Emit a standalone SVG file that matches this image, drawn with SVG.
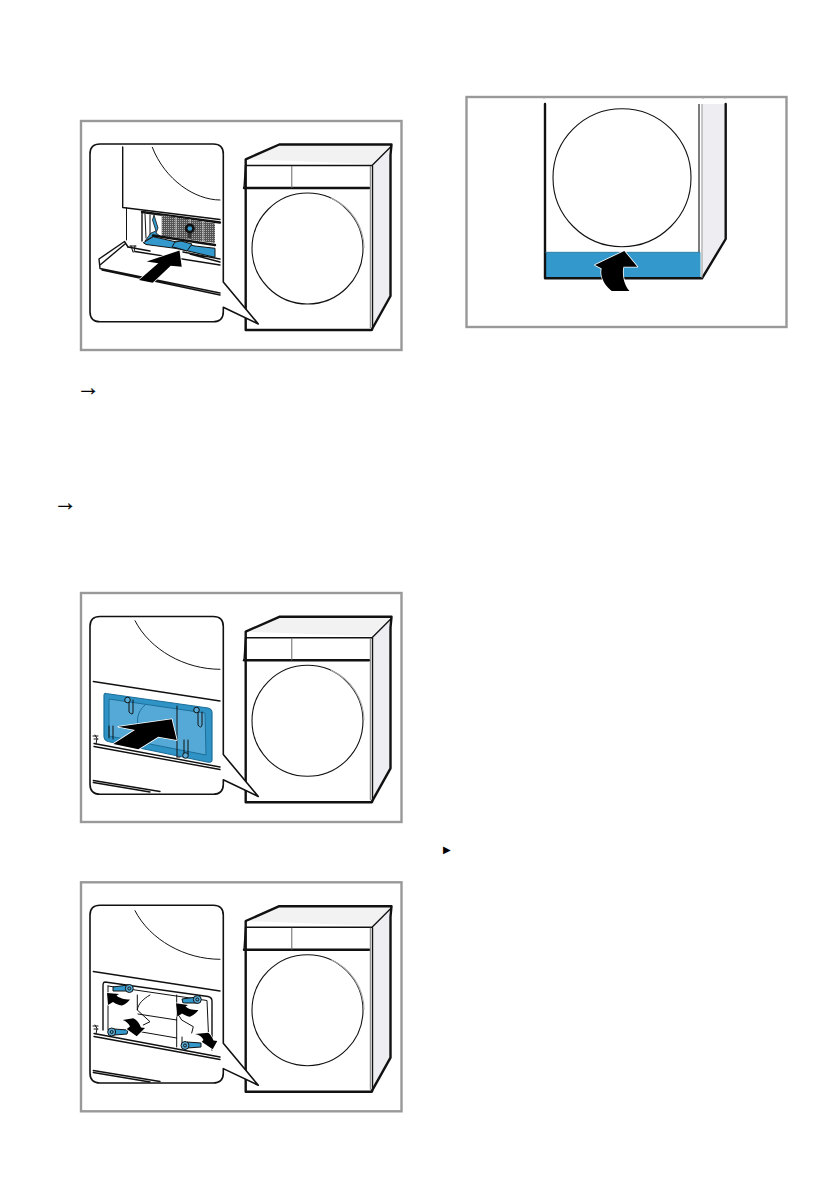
<svg xmlns="http://www.w3.org/2000/svg" width="839" height="1191" viewBox="0 0 839 1191">
<style>
.frame{fill:#fff;stroke:#999;stroke-width:2.4}
.k{fill:none;stroke:#111;stroke-linecap:round;stroke-linejoin:round}
.t{stroke-width:1}.m{stroke-width:1.4}.b{stroke-width:2.4}
.blue{fill:#3399cc;stroke:#111;stroke-width:1}
.lt{fill:#59abd6;stroke:#111;stroke-width:1}
.arr{fill:#000;stroke:#fff;stroke-width:1.6;stroke-linejoin:round;paint-order:stroke}
.txt{font-family:"Liberation Sans",sans-serif;fill:#000;stroke:#000;stroke-width:.35}
</style>
<defs>
<g id="machine">
<path d="M245.700 159.300L279.300 144.300H391.700L372 164L245.700 159.300Z" fill="#f2f2f2"/>
<path d="M372 164L391.700 146L390.500 155L390.500 296L372 330Z" fill="#eeeef2"/>
<path class="k b" d="M245.700 188V159.300L279.300 144.500H391.500L390.500 155V296L371.500 330H245.700V188"/>
<path class="k m" d="M245.700 165.500H372L391.500 146"/>
<path class="k m" d="M245.500 165.500L244 188"/>
<path class="k b" d="M244 188H369"/>
<path d="M291.800 166V188" fill="none" stroke="#666" stroke-width="1"/>
<path d="M370.300 166V328" fill="none" stroke="#777" stroke-width="1"/>
<path class="k m" d="M372.500 166V330"/>
<circle cx="307.500" cy="248.500" r="55.500" fill="#fff" stroke="#111" stroke-width="1.100"/>
<path d="M330 198A55.500 55.500 0 0 1 363 248" fill="none" stroke="#aaa" stroke-width="1.200" transform="translate(1 0)"/>
</g>
<path id="callout" d="M100 144H213.300Q223.300 144 223.300 154V282L258.300 324L223.300 307.300V311.700Q223.300 321.700 213.300 321.700H100Q90 321.700 90 311.700V154Q90 144 100 144Z" fill="#fff" stroke="#111" stroke-width="1.600" stroke-linejoin="round"/>
<pattern id="mesh" width="2" height="2" patternUnits="userSpaceOnUse"><rect width="2" height="2" fill="#555"/><rect width="1" height="1" fill="#aaa"/></pattern>
<g id="lower">
<path class="k m" d="M93.300 681.500L220 701"/>
<path class="k t" d="M135 620.700C150 650 185 669.300 220 669.300"/>
<path class="k m" d="M94 743.500L220 767M94 746.500L220 769.500"/>
<path class="k m" d="M93.300 780.500L160 791.500M93.300 782.500L150 792"/>
<path class="k t" d="M95 735L97 738.500L96 744M93 736H98M94 739H98"/>
</g>
</defs>

<g id="panel-1">
<rect class="frame" x="81" y="121" width="320.500" height="229"/>
<use href="#machine"/>
<use href="#callout"/>
<path class="k m" d="M122.700 147V207.500L220 219.500"/>
<path class="k t" d="M152.300 147.300C165 180 195 200 220 200"/>
<path class="k t" d="M126.500 208V240"/>
<path class="k b" d="M142 212L220 222.500"/>
<path class="k m" d="M142 212V241"/>
<path d="M161.700 215L215 223.500V243L161.700 236Z" fill="url(#mesh)"/>
<path d="M176 217V238M190 219V241M203 221V242" stroke="#ddd" stroke-width=".8"/>
<path class="k t" d="M145 214L146 238M150 215V235"/>
<path d="M154 215L158 228L156 233L160 236L152 237L145 241L151 233L156 231L152.500 220Z" fill="#3399cc" stroke="#111" stroke-width=".8"/>
<path d="M188 238V226L190 223L192 226L191 239Z" fill="#333"/>
<circle cx="189.800" cy="228.500" r="5" fill="#111"/><circle cx="189.800" cy="228.500" r="2.300" fill="#3399cc"/>
<path class="blue" d="M143.300 242.700L153.300 236.700L175 241.700L195 246L215 248.300V257.300L186.700 250.700L175 248.300L146 244.500Z"/>
<path class="blue" d="M175 242L181 241L192 244L187 251L177 248L172 247Z"/>
<path class="k b" d="M153 235.500L215 245"/>
<path class="k m" d="M183 252L220 259M190 254L220 262"/>
<path class="k m" d="M99 259L124.500 241.500L128 247M99 259L100 268.500L220 293M100 265L125 244M102 270L220 295"/>
<path class="k m" d="M135 251.500L220 265M128 247L150 251"/>
<path class="k t" d="M131 246L133 252M135 246L134 252M130 246H136" stroke-width="1.500"/>
<path class="arr" d="M179.500 250.500L146.700 261.500L158.300 263.300L139 280L152.700 282.700L170.700 265.700L181.700 266.700Z"/>
</g>

<g id="panel-2">
<rect class="frame" x="81" y="593" width="320.500" height="229"/>
<use href="#machine" y="472.300"/>
<use href="#callout" y="472.500"/>
<use href="#lower"/>
<path d="M106 693.500L208 708Q212 709 212 713V760Q212 763 207 762L108 741.500Q104 740 104 736V696Q104 693 106 693.500Z" fill="#2f93c6" stroke="#1c6f9b" stroke-width="1.200"/>
<path d="M109 699L205 713L206 755L109 736Z" fill="#55a9d6" stroke="#1d6f99" stroke-width="1"/>
<path class="k t" d="M177 706V757M177 757H180"/>
<path class="k t" d="M129 700V712Q133 716 133 712V700M198 712V725Q201 729 202 725V712M109 726V738M113 726V739M184 740V753M188 740V754"/>
<circle class="lt" cx="127.500" cy="700" r="2.800"/>
<circle class="lt" cx="196.500" cy="710" r="2.800"/>
<circle class="lt" cx="185.500" cy="755.500" r="2.800"/>
<path d="M145 705C137 712 137 720 138 725" fill="none" stroke="#1d6f99" stroke-width="1"/>
<path class="arr" d="M171.700 719.300L118.300 726.700L135 730L113.300 744L138.300 749.300L158.300 736.700L176.700 740Z"/>
</g>

<g id="panel-3">
<rect class="frame" x="81" y="882.300" width="320.500" height="229"/>
<use href="#machine" y="761.700"/>
<use href="#callout" y="761.300"/>
<use href="#lower" y="290"/>
<path class="k m" d="M105 982L208 996.500Q212 997.500 212 1001V1050M105 982Q103 982 103 986V1030"/>
<path class="k t" d="M108 986L207 1000.500L209 1046M108 986V1030"/>
<path class="k t" d="M137.300 995V1010M150 995C143 999 138 1004 137.300 1010L150 1021.700L143.300 1025M138 1014L176.700 1020M176.700 995V1047M140 1031.700L176.700 1038M176.700 1012L181.700 1020L193.300 1026.700L191.700 1033M182 1037V1045"/>
<path class="blue" d="M113 987L128 985L130 991L113 991Z"/>
<circle class="lt" cx="129.300" cy="988.500" r="4"/><circle class="lt" cx="129.300" cy="988.500" r="1.500"/>
<path class="blue" d="M182 999L197 997L198 1003L183 1003Z"/>
<circle class="lt" cx="197.300" cy="999.500" r="4"/><circle class="lt" cx="197.300" cy="999.500" r="1.500"/>
<path class="blue" d="M114 1029L128 1030L127 1034L114 1035Z"/>
<circle class="lt" cx="111.700" cy="1032" r="4"/><circle class="lt" cx="111.700" cy="1032" r="1.500"/>
<path class="blue" d="M187 1042L201 1043L201 1047L187 1048Z"/>
<circle class="lt" cx="185" cy="1045.500" r="4"/><circle class="lt" cx="185" cy="1045.500" r="1.500"/>
<path class="arr" d="M107 993L108 1005L113 1002C116 1004 120 1005.500 122 1005.500C126 1004 129 1001 130 999.500C124 999.500 119 998 116.500 995.500L119 994Z"/>
<path class="arr" d="M176 1003.300L177.300 1016.700L182 1013.500C185 1015.500 188 1016.700 190 1016.700C194 1015 197 1012 198.300 1010C192 1010 188 1009 185.500 1006.500L188 1005Z"/>
<path class="arr" d="M122.700 1020C126 1021 129 1024 130 1026.500L126.700 1029L136.700 1036.300L145 1028L141 1027.500C139 1023 137 1020 133.300 1018.300Z"/>
<path class="arr" d="M195 1034C199 1034.500 202 1037 203.500 1040L201.700 1041.700L212.700 1049.300L217.300 1041L213.500 1040.500C212 1037 210.500 1034.500 208.300 1032.700Z"/>
</g>

<g id="panel-4">
<rect class="frame" x="466.500" y="97" width="320" height="230"/>
<path d="M703.700 104H725.700V239L701.700 278.300V104Z" fill="#eeeef2"/>
<rect x="545" y="252.300" width="155.500" height="26" fill="#3399cc"/>
<path class="k b" d="M545 104V278.300H702L725.700 239V104"/>
<path d="M545 252.300H700" stroke="#1d6f99" stroke-width=".8"/>
<path d="M699 104V252" stroke="#111" stroke-width="1.100" fill="none"/>
<path d="M702 104V278" stroke="#999" stroke-width="1" fill="none"/>
<path d="M544 97V99M703 97V99M725 97V99" stroke="#aaa" stroke-width="1"/>
<circle cx="622" cy="177.700" r="69" fill="#fff" stroke="#111" stroke-width="1.100"/>
<path class="arr" d="M624.300 251L637.300 266.700H623.500C622 272 623 284 629.500 291H611.700C603 284 600 275 601.700 268.500L595 265Z"/>
</g>

<g id="marks">
<text class="txt" x="76.500" y="394.500" font-size="23">→</text>
<text class="txt" x="53.500" y="509.500" font-size="23">→</text>
<text x="443" y="853" font-size="10" style="font-family:'DejaVu Sans',sans-serif">▶</text>
</g>
</svg>
